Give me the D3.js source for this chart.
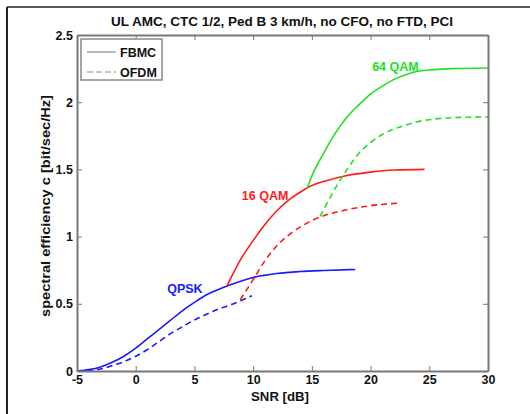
<!DOCTYPE html>
<html>
<head>
<meta charset="utf-8">
<script src="https://cdn.jsdelivr.net/npm/d3@7"></script>
<style>
body { margin: 0; background: #fff; }
text { font-family: "Liberation Sans", Arial, sans-serif; font-weight: bold; }
</style>
</head>
<body>
<div id="chart"></div>
<script>
// values (SNR in dB, efficiency in bit/sec/Hz)
var qpskFbmcX = [-5, -4, -3, -2, -1, 0, 1, 2, 3, 4, 5, 6, 7, 8, 9, 10, 12, 14, 16, 18.7];
var qpskFbmcY = [0, 0.01, 0.03, 0.065, 0.11, 0.17, 0.24, 0.31, 0.38, 0.45, 0.51, 0.565, 0.605, 0.64, 0.67, 0.695, 0.725, 0.74, 0.748, 0.755];
var qpskOfdmX = [-5, -4, -3, -2, -1, 0, 1, 2, 3, 4, 5, 6, 7, 8, 9, 9.9];
var qpskOfdmY = [0, 0.005, 0.015, 0.04, 0.07, 0.11, 0.16, 0.22, 0.28, 0.33, 0.38, 0.42, 0.46, 0.49, 0.525, 0.56];
var qam16FbmcX = [7.75, 9, 10, 11, 12, 13, 14, 15, 16, 18, 20, 22, 24.6];
var qam16FbmcY = [0.63, 0.84, 0.97, 1.09, 1.19, 1.27, 1.33, 1.38, 1.41, 1.455, 1.48, 1.495, 1.5];
var qam16OfdmX = [8.9, 10, 11, 12, 13, 14, 15, 16, 18, 20, 22.5];
var qam16OfdmY = [0.53, 0.68, 0.82, 0.93, 1.01, 1.07, 1.12, 1.155, 1.2, 1.23, 1.25];
var qam64FbmcX = [14.6, 15, 16, 17, 18, 19, 20, 21, 22, 23, 24, 25, 27, 30];
var qam64FbmcY = [1.36, 1.45, 1.62, 1.77, 1.89, 1.98, 2.06, 2.12, 2.17, 2.205, 2.23, 2.24, 2.25, 2.255];
var qam64OfdmX = [15.7, 16, 17, 18, 19, 20, 21, 22, 23, 24, 25, 27, 30];
var qam64OfdmY = [1.15, 1.2, 1.36, 1.5, 1.62, 1.7, 1.76, 1.8, 1.83, 1.855, 1.87, 1.885, 1.89];

var xTicks = [-5, 0, 5, 10, 15, 20, 25, 30];
var xTickLabels = ["-5", "0", "5", "10", "15", "20", "25", "30"];
var yTicks = [0, 0.5, 1, 1.5, 2, 2.5];
var yTickLabels = ["0", "0.5", "1", "1.5", "2", "2.5"];
var legendNames = ["FBMC", "OFDM"];

var blue = "#1a1aff", red = "#ff1a1a", green = "#22e022";

var series = [
  {x: qpskFbmcX, y: qpskFbmcY, color: blue, dash: null},
  {x: qpskOfdmX, y: qpskOfdmY, color: blue, dash: "6,4"},
  {x: qam16FbmcX, y: qam16FbmcY, color: red, dash: null},
  {x: qam16OfdmX, y: qam16OfdmY, color: red, dash: "6,4"},
  {x: qam64FbmcX, y: qam64FbmcY, color: green, dash: null},
  {x: qam64OfdmX, y: qam64OfdmY, color: green, dash: "6,4"}
];

var labels = [
  {text: "QPSK", x: 5.7, y: 0.58, color: blue},
  {text: "16 QAM", x: 13.0, y: 1.27, color: red},
  {text: "64 QAM", x: 24.1, y: 2.23, color: green}
];

var W = 530, H = 414;
var mLeft = 77, mRight = 488, mTop = 35, mBottom = 371;

var svg = d3.select("#chart").append("svg")
  .attr("width", W)
  .attr("height", H);

// outer figure border (top and left only visible)
svg.append("line").attr("x1", 7).attr("y1", 7).attr("x2", W).attr("y2", 7)
  .attr("stroke", "#555").attr("stroke-width", 2);
svg.append("line").attr("x1", 7).attr("y1", 7).attr("x2", 7).attr("y2", H)
  .attr("stroke", "#222").attr("stroke-width", 2);

var x = d3.scaleLinear().domain([-5, 30]).range([mLeft, mRight]);
var y = d3.scaleLinear().domain([0, 2.5]).range([mBottom, mTop]);

var line = d3.line()
  .x(function(d) { return x(d[0]); })
  .y(function(d) { return y(d[1]); })
  .curve(d3.curveMonotoneX);

svg.selectAll("path.curve")
  .data(series)
  .enter()
  .append("path")
    .attr("class", "curve")
    .attr("d", function(s) { return line(d3.zip(s.x, s.y)); })
    .attr("fill", "none")
    .attr("stroke", function(s) { return s.color; })
    .attr("stroke-width", 1.6)
    .attr("stroke-dasharray", function(s) { return s.dash; });

// axes, ticks pointing inward like matlab
var axisColor = "#777";
var fontSize = 12.5;

var xAxis = svg.append("g")
  .attr("transform", "translate(0," + mBottom + ")")
  .call(d3.axisBottom(x).tickValues(xTicks).tickSizeInner(-5).tickSizeOuter(0).tickPadding(4)
    .tickFormat(function(d, i) { return xTickLabels[i]; }));
var xAxisTop = svg.append("g")
  .attr("transform", "translate(0," + mTop + ")")
  .call(d3.axisTop(x).tickValues(xTicks).tickSizeInner(-5).tickSizeOuter(0).tickFormat(""));
var yAxis = svg.append("g")
  .attr("transform", "translate(" + mLeft + ",0)")
  .call(d3.axisLeft(y).tickValues(yTicks).tickSizeInner(-5).tickSizeOuter(0).tickPadding(4)
    .tickFormat(function(d, i) { return yTickLabels[i]; }));
var yAxisRight = svg.append("g")
  .attr("transform", "translate(" + mRight + ",0)")
  .call(d3.axisRight(y).tickValues(yTicks).tickSizeInner(-5).tickSizeOuter(0).tickFormat(""));

[xAxis, xAxisTop, yAxis, yAxisRight].forEach(function(g) {
  g.select(".domain").attr("stroke", axisColor).attr("stroke-width", 2);
  g.selectAll(".tick line").attr("stroke", axisColor);
  g.selectAll(".tick text")
    .attr("fill", "#111")
    .style("font-size", fontSize + "px")
    .style("font-family", "'Liberation Sans', Arial, sans-serif")
    .style("font-weight", "bold");
});
xAxis.selectAll(".tick text").attr("y", 4).attr("dy", "0.71em");

svg.append("text")
  .attr("x", 282).attr("y", 26)
  .attr("text-anchor", "middle")
  .style("font-size", "13.5px")
  .attr("fill", "#111")
  .text("UL AMC, CTC 1/2, Ped B 3 km/h, no CFO, no FTD, PCI");

svg.append("text")
  .attr("x", 280).attr("y", 401)
  .attr("text-anchor", "middle")
  .style("font-size", "13.2px")
  .attr("fill", "#111")
  .text("SNR [dB]");

svg.append("text")
  .attr("transform", "translate(50,206) rotate(-90)")
  .attr("text-anchor", "middle")
  .attr("textLength", 222)
  .attr("lengthAdjust", "spacingAndGlyphs")
  .style("font-size", "13px")
  .attr("fill", "#111")
  .text("spectral efficiency c [bit/sec/Hz]");

svg.selectAll("text.lab")
  .data(labels)
  .enter()
  .append("text")
    .attr("class", "lab")
    .attr("x", function(d) { return x(d.x); })
    .attr("y", function(d) { return y(d.y); })
    .attr("text-anchor", "end")
    .attr("fill", function(d) { return d.color; })
    .style("font-size", "12.5px")
    .text(function(d) { return d.text; });

// legend
var lg = svg.append("g").attr("transform", "translate(81,39)");
lg.append("rect")
  .attr("width", 81).attr("height", 41)
  .attr("fill", "#fff")
  .attr("stroke", "#888")
  .attr("stroke-width", 1.5);
var lgItems = lg.selectAll("g.item")
  .data(legendNames)
  .enter()
  .append("g")
  .attr("class", "item")
  .attr("transform", function(d, i) { return "translate(0," + (13 + i * 20) + ")"; });
lgItems.append("line")
  .attr("x1", 6).attr("x2", 35)
  .attr("stroke", "#888")
  .attr("stroke-width", 1.2)
  .attr("stroke-dasharray", function(d, i) { return i ? "6,3" : null; });
lgItems.append("text")
  .attr("x", 39).attr("y", 4.5)
  .attr("fill", "#111")
  .style("font-size", "12.5px")
  .text(function(d) { return d; });
</script>
</body>
</html>
